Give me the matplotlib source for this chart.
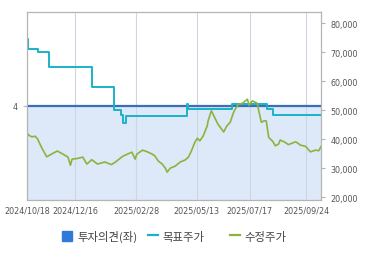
import pandas as pd
import matplotlib.pyplot as plt
from matplotlib.patches import Patch
from matplotlib.lines import Line2D

plt.rcParams['font.family'] = ['Noto Sans CJK KR', 'DejaVu Sans']

# 수정주가 (adjusted price)
price_dates = ['2024-10-18', '2024-10-21', '2024-10-24', '2024-10-28', '2024-10-31', '2024-11-05',
               '2024-11-11', '2024-11-18', '2024-11-24', '2024-12-01', '2024-12-07', '2024-12-10',
               '2024-12-12', '2024-12-18', '2024-12-25', '2024-12-30', '2025-01-05', '2025-01-12',
               '2025-01-21', '2025-01-29', '2025-02-03', '2025-02-11', '2025-02-15', '2025-02-23',
               '2025-02-27', '2025-03-01', '2025-03-08', '2025-03-14', '2025-03-20', '2025-03-23',
               '2025-03-27', '2025-04-01', '2025-04-05', '2025-04-07', '2025-04-11', '2025-04-17',
               '2025-04-23', '2025-04-29', '2025-05-03', '2025-05-06', '2025-05-09', '2025-05-11',
               '2025-05-14', '2025-05-17', '2025-05-21', '2025-05-26', '2025-05-27', '2025-05-31',
               '2025-06-05', '2025-06-08', '2025-06-15', '2025-06-19', '2025-06-23', '2025-06-27',
               '2025-06-29', '2025-07-03', '2025-07-08', '2025-07-14', '2025-07-16', '2025-07-20',
               '2025-07-26', '2025-07-27', '2025-07-31', '2025-08-03', '2025-08-06', '2025-08-09',
               '2025-08-14', '2025-08-17', '2025-08-21', '2025-08-23', '2025-08-29', '2025-09-02',
               '2025-09-11', '2025-09-17', '2025-09-23', '2025-09-29', '2025-10-05', '2025-10-09',
               '2025-10-12']
price_values = [42000, 41200, 40800, 41000, 40000, 37000,
                33900, 35000, 35900, 34800, 33800, 31000,
                33100, 33300, 33800, 31400, 32900, 31400,
                32100, 31200, 32100, 33900, 34500, 35500,
                33100, 34800, 36200, 35600, 34800, 34200,
                32500, 31400, 29900, 28600, 30000, 30700,
                32100, 32800, 33800, 35500, 37600, 39000,
                40300, 39400, 41100, 44600, 46300, 49800,
                46900, 45200, 42500, 44600, 45800, 49200,
                50300, 52000, 52400, 53800, 51700, 53200,
                52400, 50900, 45800, 46300, 46300, 40600,
                39200, 37700, 38300, 39700, 38900, 38100,
                39100, 37900, 37500, 35600, 36200, 36000,
                37500]

# 목표주가 (target price)
target_dates = ['2024-10-18', '2024-10-19', '2024-10-31', '2024-11-14', '2025-01-05', '2025-02-01',
                '2025-02-10', '2025-02-12', '2025-02-16', '2025-05-01', '2025-05-03', '2025-06-25',
                '2025-08-07', '2025-08-14', '2025-10-12']
target_values = [74500, 71000, 70000, 65000, 58000, 50000,
                 48500, 45500, 48000, 52000, 50500, 52000,
                 50500, 48300, 48300]

# 투자의견 (opinion, left axis)
opinion_dates = ['2024-10-18', '2025-10-12']
opinion_values = [4, 4]

tick_dates = ['2024-10-18', '2024-12-16', '2025-02-28', '2025-05-13', '2025-07-17', '2025-09-24']

price_dates = pd.to_datetime(price_dates)
target_dates = pd.to_datetime(target_dates)
opinion_dates = pd.to_datetime(opinion_dates)
tick_dates = pd.to_datetime(tick_dates)

fig = plt.figure(figsize=(3.7, 2.55), dpi=100)
ax = fig.add_axes([0.073, 0.212, 0.795, 0.738])
ax2 = ax.twinx()

ax.fill_between(opinion_dates, 0, opinion_values, color='#dde8f8', zorder=1)
ax.plot(opinion_dates, opinion_values, color='#3a6fb7', lw=1.6, zorder=3)
ax.set_ylim(3, 5)
ax.set_yticks([4])
ax.set_xlim(opinion_dates[0], opinion_dates[-1])
ax.set_xticks(tick_dates)
ax.set_xticklabels([d.strftime('%Y/%m/%d') for d in tick_dates])
ax.grid(axis='x', color='#cdd6e3', lw=0.8, zorder=2)

ax2.plot(target_dates, target_values, color='#1ab2c8', lw=1.4, drawstyle='steps-post')
ax2.plot(price_dates, price_values, color='#8ab43c', lw=1.2)
ax2.set_ylim(19000, 84000)
ax2.set_yticks(range(20000, 80001, 10000))
ax2.set_yticklabels([f'{v:,}' for v in range(20000, 80001, 10000)])

for a in (ax, ax2):
    for s in a.spines.values():
        s.set_color('#b4b4b4')
    a.tick_params(colors='#b4b4b4', labelcolor='#555555', labelsize=5.8, length=3, width=0.8)
    a.tick_params(axis='x', length=0, pad=4)
for lab in ax.get_xticklabels() + ax.get_yticklabels() + ax2.get_yticklabels():
    lab.set_family('DejaVu Sans')

# legend items placed one by one like the original
handles = [Patch(color='#2f7ad8'),
           Line2D([], [], color='#1ab2c8', lw=1.6),
           Line2D([], [], color='#8ab43c', lw=1.6)]
labels = ['투자의견(좌)', '목표주가', '수정주가']
xpos = [0.168, 0.399, 0.621]
for h, l, x in zip(handles, labels, xpos):
    fig.legend([h], [l], loc='center left', bbox_to_anchor=(x, 0.07), frameon=False,
               fontsize=8.2, handlelength=0.9, handleheight=0.9, handletextpad=0.4,
               borderpad=0, borderaxespad=0, labelcolor='#444444')

plt.savefig('out.png')
